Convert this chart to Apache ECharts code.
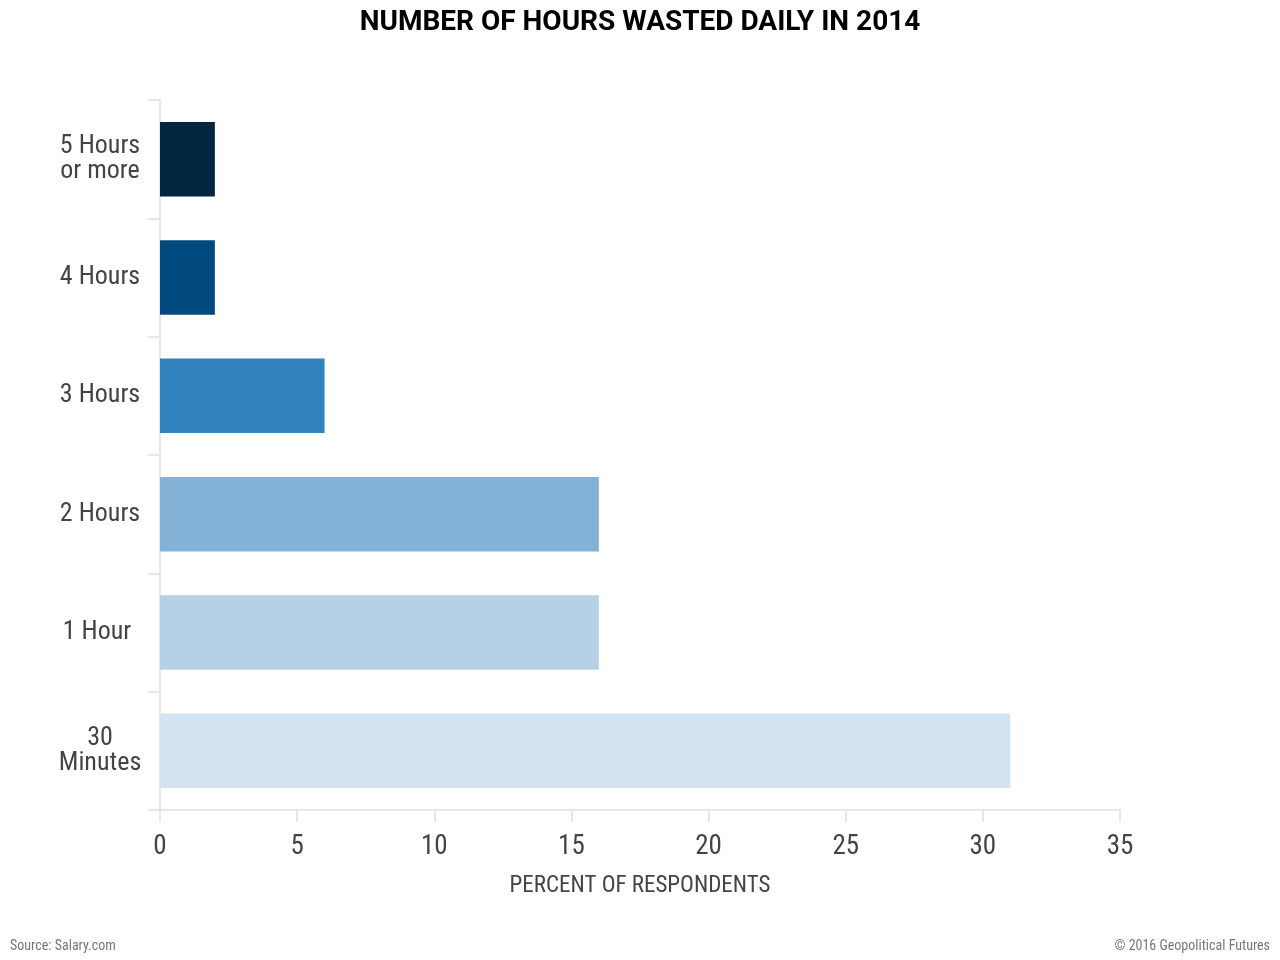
<!DOCTYPE html>
<html><head><meta charset="utf-8">
<script src="https://cdn.jsdelivr.net/npm/echarts@6/dist/echarts.min.js"></script>
<style>html,body{margin:0;padding:0;background:#fff}#c{width:1280px;height:960px}</style>
</head><body><div id="c"></div>
<script>
const categories = ['30\nMinutes', '1 Hour ', '2 Hours', '3 Hours', '4 Hours', '5 Hours\nor more'];
const values = [31, 16, 16, 6, 2, 2];
const barColors = ['#d3e3f0', '#b5d1e6', '#84b2d6', '#3182bd', '#004a7f', '#02263f'];
const xTicks = [0, 5, 10, 15, 20, 25, 30, 35];
const condensed = "'Roboto Condensed','Liberation Sans Narrow','Roboto',sans-serif";
const chart = echarts.init(document.getElementById('c'));
chart.setOption({
  animation: false,
  title: [{
    text: 'NUMBER OF HOURS WASTED DAILY IN 2014', left: 'center', top: 4,
    textStyle: {fontFamily: 'Roboto', fontWeight: 'bold', fontSize: 28, color: '#000'}
  }, {
    text: 'Source: Salary.com', left: 10, top: 939, padding: 0,
    textStyle: {fontFamily: condensed, fontWeight: 'normal', fontSize: 14, color: '#777'}
  }, {
    text: '© 2016 Geopolitical Futures', right: 10, top: 939, padding: 0,
    textStyle: {fontFamily: condensed, fontWeight: 'normal', fontSize: 14, color: '#777'}
  }],
  grid: {left: 160, right: 160, top: 100, bottom: 150},
  xAxis: {
    type: 'value', min: xTicks[0], max: xTicks[xTicks.length - 1], interval: 5,
    name: 'PERCENT OF RESPONDENTS', nameLocation: 'middle', nameGap: 65,
    nameTextStyle: {fontFamily: condensed, fontSize: 23, color: '#444'},
    axisLine: {show: true, lineStyle: {color: '#e6e6e6', width: 2}},
    axisTick: {show: true, length: 12, lineStyle: {color: '#e6e6e6', width: 2}},
    axisLabel: {fontFamily: condensed, fontSize: 27, color: '#444', margin: 24},
    splitLine: {show: false}
  },
  yAxis: {
    type: 'category', data: categories,
    axisLine: {show: true, lineStyle: {color: '#e6e6e6', width: 2}},
    axisTick: {show: true, length: 12, lineStyle: {color: '#e6e6e6', width: 2}},
    axisLabel: {fontFamily: condensed, fontSize: 26, color: '#444', align: 'center', margin: 60, lineHeight: 25}
  },
  series: [{
    type: 'bar', barCategoryGap: '37%',
    data: values.map((v, i) => ({value: v, itemStyle: {color: barColors[i]}}))
  }]
});
</script></body></html>
